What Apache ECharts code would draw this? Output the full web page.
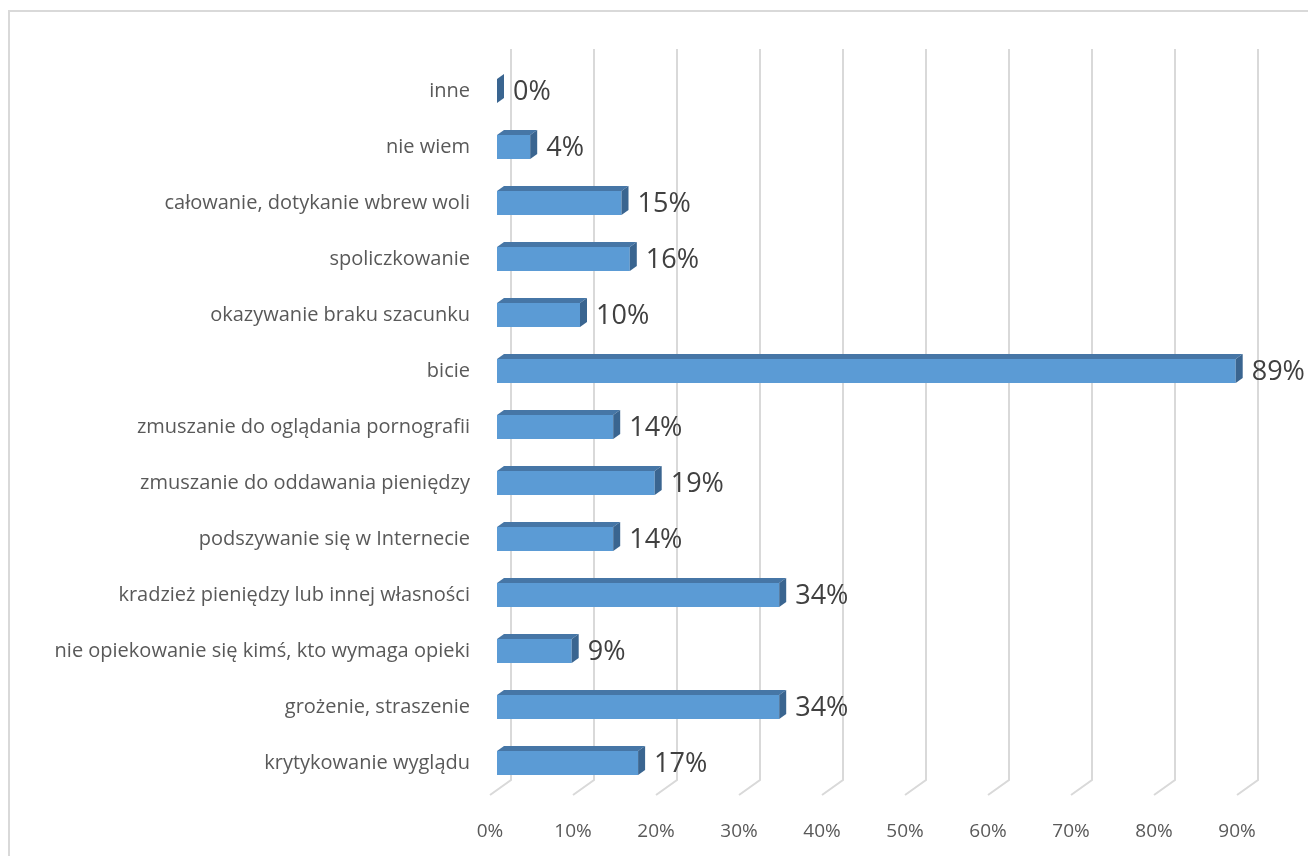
<!DOCTYPE html>
<html>
<head>
<meta charset="utf-8">
<script src="https://cdn.jsdelivr.net/npm/echarts@6/dist/echarts.min.js"></script>
<style>
  html, body { margin: 0; padding: 0; background: #fff; }
  #chart { width: 1308px; height: 856px; }
</style>
</head>
<body>
<div id="chart"></div>
<script>
var categories = [
  'inne',
  'nie wiem',
  'całowanie, dotykanie wbrew woli',
  'spoliczkowanie',
  'okazywanie braku szacunku',
  'bicie',
  'zmuszanie do oglądania pornografii',
  'zmuszanie do oddawania pieniędzy',
  'podszywanie się w Internecie',
  'kradzież pieniędzy lub innej własności',
  'nie opiekowanie się kimś, kto wymaga opieki',
  'grożenie, straszenie',
  'krytykowanie wyglądu'
];
var values = [0, 4, 15, 16, 10, 89, 14, 19, 14, 34, 9, 34, 17];
var xTicks = [0, 10, 20, 30, 40, 50, 60, 70, 80, 90];

var chart = echarts.init(document.getElementById('chart'));

// depth of the 3d effect
var DX = 7, DY = -5;

var option = {
  animation: false,
  textStyle: { fontFamily: 'Open Sans' },
  grid: { left: 497, right: 64, top: 63, bottom: 65 },
  xAxis: {
    type: 'value',
    min: 0,
    max: 90,
    interval: 10,
    axisLine: { show: false },
    axisTick: { show: false },
    splitLine: { show: false },
    axisLabel: {
      margin: 31,
      fontSize: 19,
      color: '#595959',
      padding: [0, 14, 0, 0],
      formatter: function (v) { return v + '%'; }
    }
  },
  yAxis: {
    type: 'category',
    inverse: true,
    data: categories,
    axisLine: { show: false },
    axisTick: { show: false },
    axisLabel: { margin: 27, fontSize: 20, color: '#595959', padding: [4, 0, 0, 0] }
  },
  graphic: [{
    type: 'polyline',
    shape: { points: [[9, 856], [9, 11], [1308, 11]] },
    style: { stroke: '#d9d9d9', lineWidth: 2, fill: null },
    silent: true
  }],
  series: [
    {
      // back wall + floor grid lines
      type: 'custom',
      silent: true,
      z: 1,
      data: xTicks,
      renderItem: function (params, api) {
        var p = api.coord([api.value(0), 0]);
        var x = p[0] + 14;
        return {
          type: 'polyline',
          shape: { points: [[x, 49], [x, 780], [x - 21, 795]] },
          style: { stroke: '#d9d9d9', lineWidth: 2, fill: null }
        };
      }
    },
    {
      type: 'custom',
      z: 2,
      data: values.map(function (v, i) { return [v, i]; }),
      encode: { x: 0, y: 1 },
      renderItem: function (params, api) {
        var v = api.value(0);
        var idx = api.value(1);
        var a = api.coord([0, idx]);
        var b = api.coord([v, idx]);
        var h = 24;
        var x0 = a[0], x1 = b[0];
        var yT = a[1] - h / 2, yB = a[1] + h / 2;
        return {
          type: 'group',
          children: [
            {
              type: 'rect',
              shape: { x: x0, y: yT, width: x1 - x0, height: h },
              style: { fill: '#5b9bd5' }
            },
            {
              type: 'polygon',
              shape: { points: [[x0, yT], [x1, yT], [x1 + DX, yT + DY], [x0 + DX, yT + DY]] },
              style: { fill: '#4676a6' }
            },
            {
              type: 'polygon',
              shape: { points: [[x1, yT], [x1 + DX, yT + DY], [x1 + DX, yB + DY], [x1, yB]] },
              style: { fill: '#3a6590' }
            },
            {
              type: 'text',
              style: {
                x: x1 + 16,
                y: a[1] + 1,
                text: v + '%',
                fontSize: 27,
                fontFamily: 'Open Sans',
                fill: '#404040',
                verticalAlign: 'middle',
                align: 'left'
              }
            }
          ]
        };
      }
    }
  ]
};

chart.setOption(option);
</script>
</body>
</html>
